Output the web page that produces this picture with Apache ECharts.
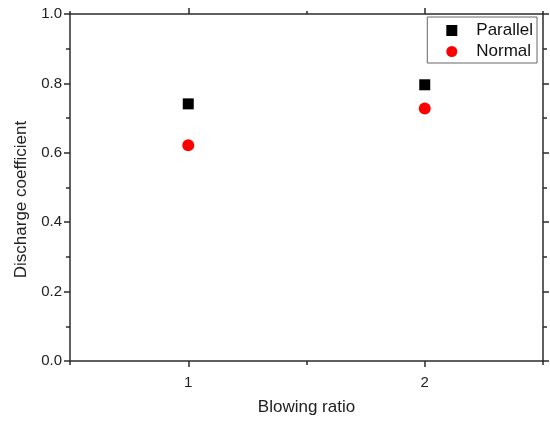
<!DOCTYPE html>
<html>
<head>
<meta charset="utf-8">
<script src="https://cdn.jsdelivr.net/npm/echarts@6/dist/echarts.min.js"></script>
<style>
  html, body { margin: 0; padding: 0; background: #fff; }
  #chart { width: 550px; height: 421px; }
</style>
</head>
<body>
<div id="chart"></div>
<script>
// data
const blowingRatio = [1, 2];
const parallel = [0.741, 0.796];
const normal = [0.622, 0.728];
const xMajorTicks = [1, 2];
const xMinorTicks = [0.5, 1.5, 2.5];

const axisColor = '#2b2b2b';
const font = 'Liberation Sans, Arial, sans-serif';

const chart = echarts.init(document.getElementById('chart'));

// x axes: main (labels + major ticks) and helper one for the short ticks
function xAxisDef(position, ticks, tickLen, showLine, showLabels) {
  return {
    type: 'value',
    position: position,
    min: 0.5,
    max: 2.5,
    interval: 0.5,
    axisLine: { show: showLine, onZero: false, lineStyle: { color: axisColor, width: 1.5 } },
    axisTick: { show: true, customValues: ticks, length: tickLen, lineStyle: { color: axisColor, width: 1.5 } },
    axisLabel: {
      show: showLabels,
      customValues: xMajorTicks,
      color: '#222',
      fontSize: 15,
      fontFamily: font,
      margin: 14
    },
    splitLine: { show: false }
  };
}

function yAxisDef(position, showLabels) {
  return {
    type: 'value',
    position: position,
    min: 0,
    max: 1,
    interval: 0.2,
    name: showLabels ? 'Discharge coefficient' : '',
    nameLocation: 'middle',
    nameGap: 40,
    nameTextStyle: { color: '#222', fontSize: 17, fontFamily: font, padding: [0, 24, 0, 0] },
    axisLine: { show: true, onZero: false, lineStyle: { color: axisColor, width: 1.5 } },
    axisTick: { show: true, length: 6, lineStyle: { color: axisColor, width: 1.5 } },
    minorTick: { show: true, splitNumber: 2, length: 4, lineStyle: { color: axisColor, width: 1.5 } },
    axisLabel: {
      show: showLabels,
      color: '#222',
      fontSize: 15,
      fontFamily: font,
      margin: 8,
      formatter: v => v.toFixed(1)
    },
    splitLine: { show: false },
    minorSplitLine: { show: false }
  };
}

const xMain = xAxisDef('bottom', xMajorTicks, 6, true, true);
xMain.name = 'Blowing ratio';
xMain.nameLocation = 'middle';
xMain.nameGap = 38;
xMain.nameTextStyle = { color: '#222', fontSize: 17, fontFamily: font };

const option = {
  animation: false,
  backgroundColor: '#fff',
  grid: { left: 70, right: 7, top: 14, bottom: 59, containLabel: false },
  xAxis: [
    xMain,
    xAxisDef('bottom', xMinorTicks, 4, false, false),
    xAxisDef('top', xMajorTicks, 6, true, false),
    xAxisDef('top', xMinorTicks, 3, false, false)
  ],
  yAxis: [
    yAxisDef('left', true),
    yAxisDef('right', false)
  ],
  legend: {
    orient: 'vertical',
    right: 13,
    top: 17,
    align: 'left',
    borderColor: '#666',
    borderWidth: 1,
    borderRadius: 0,
    padding: [5, 4, 3, 19],
    itemGap: 4,
    itemWidth: 11,
    itemHeight: 11,
    textStyle: { color: '#111', fontSize: 17, lineHeight: 17, fontFamily: font, padding: [0, 0, 0, 14] },
    data: [
      { name: 'Parallel', icon: 'rect' },
      { name: 'Normal', icon: 'circle' }
    ]
  },
  series: [
    {
      name: 'Parallel',
      type: 'scatter',
      symbol: 'rect',
      symbolSize: 11,
      itemStyle: { color: '#000', opacity: 1 },
      data: blowingRatio.map((x, i) => [x, parallel[i]])
    },
    {
      name: 'Normal',
      type: 'scatter',
      symbol: 'circle',
      symbolSize: 12,
      itemStyle: { color: '#f00', opacity: 1 },
      data: blowingRatio.map((x, i) => [x, normal[i]])
    }
  ]
};

chart.setOption(option);
</script>
</body>
</html>
